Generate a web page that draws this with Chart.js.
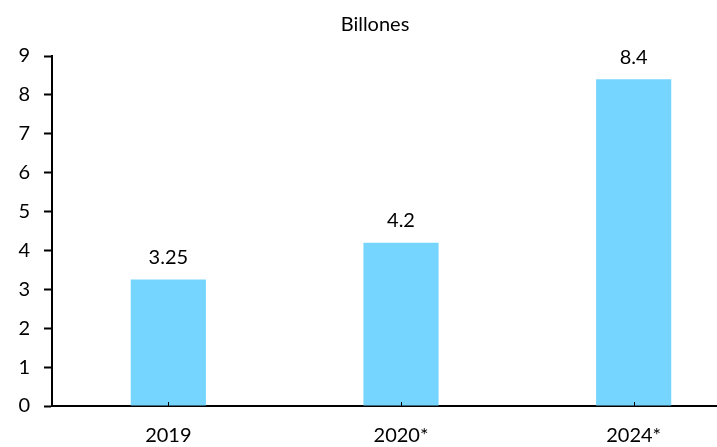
<!DOCTYPE html>
<html><head><meta charset="utf-8">
<script src="https://cdn.jsdelivr.net/npm/chart.js@4"></script>
<style>
html,body{margin:0;padding:0;overflow:hidden;background:#fff;width:717px;height:447px}
#wrap{width:750px;height:447px;position:relative}
</style></head>
<body><div id="wrap"><canvas id="c"></canvas></div>
<script>
const categories = ['2019', '2020*', '2024*'];
const values = [3.25, 4.2, 8.4];
const valueLabels = ['3.25', '4.2', '8.4'];
const yTicks = [0,1,2,3,4,5,6,7,8,9];
const titleText = 'Billones';

const FONT = 'Lato, "Open Sans", sans-serif';

const extras = {
  id: 'extras',
  afterDatasetsDraw(chart) {
    const ctx = chart.ctx;
    const meta = chart.getDatasetMeta(0);
    ctx.save();
    ctx.fillStyle = '#000';
    ctx.font = '20px ' + FONT;
    ctx.textAlign = 'center';
    ctx.textBaseline = 'bottom';
    meta.data.forEach((bar, i) => {
      ctx.fillText(valueLabels[i], bar.x, bar.y - 12);
    });
    const xs = chart.scales.x;
    ctx.strokeStyle = '#000';
    ctx.lineWidth = 1;
    categories.forEach((c, i) => {
      const px = Math.round(xs.getPixelForTick(i)) + 0.5;
      ctx.beginPath();
      ctx.moveTo(px, xs.top);
      ctx.lineTo(px, xs.top - 4);
      ctx.stroke();
    });
    ctx.restore();
  }
};

new Chart(document.getElementById('c'), {
  type: 'bar',
  data: {
    labels: categories,
    datasets: [{
      data: values,
      backgroundColor: 'rgb(117,213,255)',
      barPercentage: 0.323,
      categoryPercentage: 1
    }]
  },
  plugins: [extras],
  options: {
    responsive: true,
    maintainAspectRatio: false,
    animation: false,
    layout: { padding: 0 },
    plugins: {
      legend: { display: false },
      tooltip: { enabled: false },
      title: {
        display: true,
        text: titleText,
        color: '#000',
        font: { family: FONT, size: 20, weight: 'normal', lineHeight: 1.2 },
        padding: { top: 13, bottom: 19 }
      }
    },
    scales: {
      x: {
        grid: { display: false, drawTicks: false },
        border: { display: true, color: '#000', width: 2 },
        ticks: { color: '#000', font: { family: FONT, size: 20 }, padding: 18, maxRotation: 0 },
        afterFit(s) { s.height = 41; }
      },
      y: {
        min: 0, max: 9,
        afterBuildTicks(s) { s.ticks = yTicks.map(v => ({ value: v })); },
        grid: { display: true, drawOnChartArea: false, drawTicks: true, tickLength: 8, color: '#000', tickWidth: 2 },
        border: { display: true, color: '#000', width: 2 },
        ticks: { color: '#000', font: { family: FONT, size: 20 }, padding: 14 },
        afterFit(s) { s.width = 52; }
      }
    }
  }
});
</script></body></html>
